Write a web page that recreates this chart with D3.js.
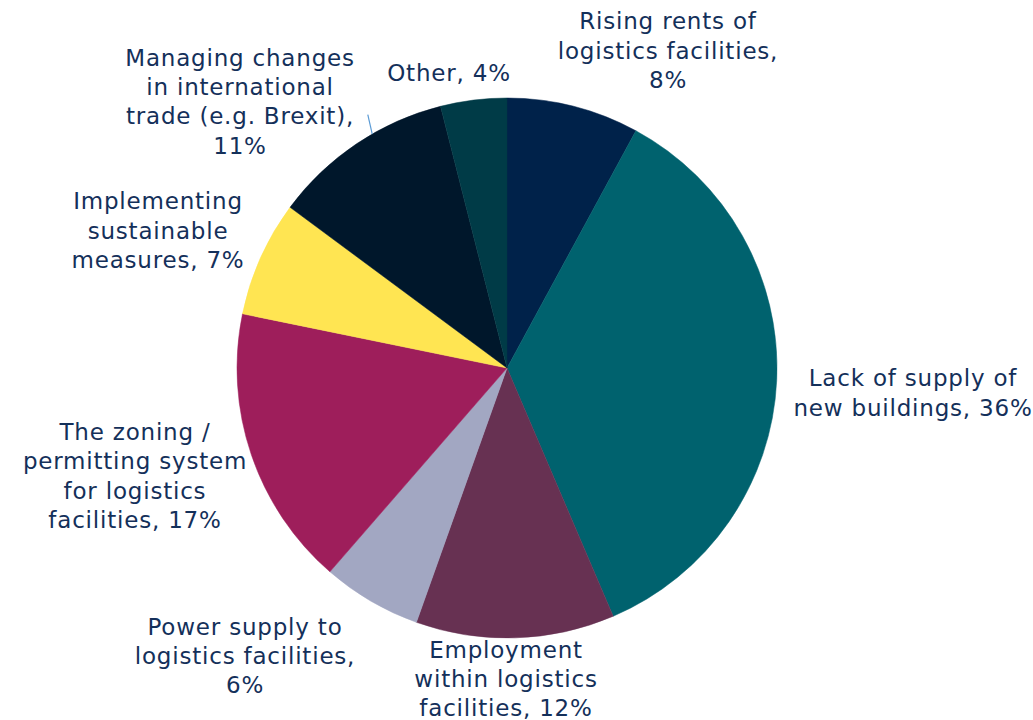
<!DOCTYPE html>
<html>
<head>
<meta charset="utf-8">
<script src="https://cdn.jsdelivr.net/npm/d3@7"></script>
<style>
  html, body { margin: 0; padding: 0; background: #ffffff; }
  svg { display: block; }
  text { font-family: "DejaVu Sans", "Noto Sans", sans-serif; fill: #14305a; letter-spacing: 0.8px; }
</style>
</head>
<body>
<svg id="chart" width="1033" height="720"></svg>
<script>
// Share of respondents naming each issue as the main challenge (%)
const categories = [
  "Rising rents of logistics facilities",
  "Lack of supply of new buildings",
  "Employment within logistics facilities",
  "Power supply to logistics facilities",
  "The zoning / permitting system for logistics facilities",
  "Implementing sustainable measures",
  "Managing changes in international trade (e.g. Brexit)",
  "Other"
];
const values = [8, 36, 12, 6, 17, 7, 11, 4];

// Wrapped label lines, as printed beside each slice
const labelLines = [
  ["Rising rents of", "logistics facilities,", "8%"],
  ["Lack of supply of", "new buildings, 36%"],
  ["Employment", "within logistics", "facilities, 12%"],
  ["Power supply to", "logistics facilities,", "6%"],
  ["The zoning /", "permitting system", "for logistics", "facilities, 17%"],
  ["Implementing", "sustainable", "measures, 7%"],
  ["Managing changes", "in international", "trade (e.g. Brexit),", "11%"],
  ["Other, 4%"]
];

const colors = ["#00224a", "#00626e", "#673152", "#a2a7c2", "#9e1e5b", "#ffe552", "#00172b", "#003b47"];

// ---- layout ----
const cx = 507, cy = 368, radius = 270;
const lineHeight = 29.3;
const fontSize = 23;
// label block centres, relative to the pie centre
const labelPos = [
  [161, -317.5], [406, 25], [-1, 311], [-262, 288],
  [-372, 108], [-349, -137.5], [-267, -266.5], [-58, -295]
];

const svg = d3.select("#chart");
const g = svg.append("g").attr("transform", `translate(${cx},${cy})`);

const pie = d3.pie().sort(null).value(d => d.value);
const arc = d3.arc().innerRadius(0).outerRadius(radius);

const data = categories.map((c, i) => ({ name: c, value: values[i], lines: labelLines[i], color: colors[i], pos: labelPos[i] }));
const arcs = pie(data);

g.selectAll("path.slice")
  .data(arcs)
  .join("path")
  .attr("class", "slice")
  .attr("d", arc)
  .attr("fill", d => d.data.color)
  .attr("stroke", d => d.data.color)
  .attr("stroke-width", 0.5);

// leader line from the trade label to its slice
const tradeArc = arcs[6];
const at = tradeArc.startAngle + (tradeArc.endAngle - tradeArc.startAngle) * 0.6;
const polar = (a, r) => [Math.sin(a) * r, -Math.cos(a) * r];
const q0 = polar(at + 0.02, radius + 19), q1 = polar(at, radius);
g.append("line")
  .attr("x1", q0[0]).attr("y1", q0[1])
  .attr("x2", q1[0]).attr("y2", q1[1])
  .attr("stroke", "#5b9bd5")
  .attr("stroke-width", 1.2);

const labels = g.selectAll("text.label")
  .data(arcs)
  .join("text")
  .attr("class", "label")
  .attr("text-anchor", "middle")
  .attr("font-size", fontSize)
  .attr("transform", d => `translate(${d.data.pos[0]},${d.data.pos[1]})`);

labels.each(function(d) {
  const n = d.data.lines.length;
  d3.select(this).selectAll("tspan")
    .data(d.data.lines)
    .join("tspan")
    .attr("x", 0)
    .attr("y", (l, i) => (i - (n - 1) / 2) * lineHeight)
    .attr("dy", "0.35em")
    .text(l => l);
});
</script>
</body>
</html>
